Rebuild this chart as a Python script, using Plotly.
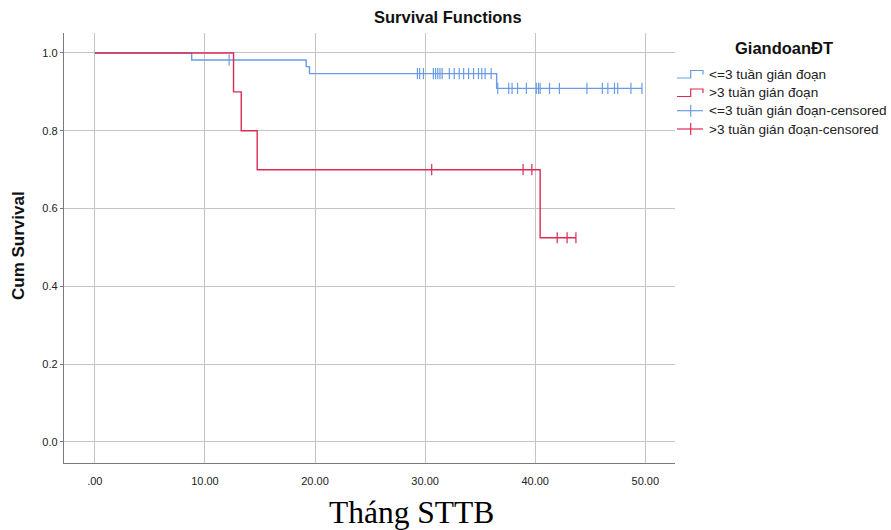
import plotly.graph_objects as go

# ---- data ----
blue_name = "<=3 tuần gián đoạn"
red_name = ">3 tuần gián đoạn"

blue_times = [0.0, 8.8, 19.2, 19.5, 36.5]
blue_surv = [1.0, 0.982, 0.965, 0.947, 0.909]
blue_end = 49.7
blue_censored = [12.2,
                 29.3, 29.5, 29.85, 30.75, 30.95, 31.15, 31.35, 31.55, 32.2, 32.65,
                 33.1, 33.5, 33.95, 34.4, 34.85, 35.15, 35.45, 36.0,
                 36.6, 37.6, 37.9, 38.4, 39.2, 40.1, 40.3, 40.45, 41.3, 42.2,
                 44.7, 46.1, 46.6, 47.2, 47.5, 48.7, 49.7]

red_times = [0.0, 12.6, 13.3, 14.75, 40.45]
red_surv = [1.0, 0.9, 0.8, 0.7, 0.525]
red_end = 43.7
red_censored = [30.6, 38.9, 39.7, 42.0, 42.9, 43.7]

x_ticks = [0, 10, 20, 30, 40, 50]
x_ticklabels = [".00", "10.00", "20.00", "30.00", "40.00", "50.00"]
y_ticks = [0.0, 0.2, 0.4, 0.6, 0.8, 1.0]
y_ticklabels = ["0.0", "0.2", "0.4", "0.6", "0.8", "1.0"]

BLUE = "#6a9ce6"
RED = "#dd2a55"


def surv_at(times, surv, t):
    v = surv[0]
    for ti, si in zip(times, surv):
        if t >= ti:
            v = si
    return v


fig = go.Figure()
for times, surv, end, cens, col in [
    (blue_times, blue_surv, blue_end, blue_censored, BLUE),
    (red_times, red_surv, red_end, red_censored, RED),
]:
    fig.add_trace(go.Scatter(x=times + [end], y=surv + [surv[-1]], mode="lines",
                             line=dict(shape="hv", color=col, width=1.4),
                             showlegend=False, hoverinfo="skip"))
    fig.add_trace(go.Scatter(x=cens, y=[surv_at(times, surv, t) for t in cens],
                             mode="markers",
                             marker=dict(symbol="line-ns", size=8,
                                         line=dict(color=col, width=1.2)),
                             showlegend=False, hoverinfo="skip"))

W, H = 891, 530
L, R, T, B = 64, 675, 33, 463


def px(x):
    return (x - L) / (R - L)


def py(y):
    return (B - y) / (B - T)


shapes = []
annotations = []

# Legend (drawn manually to reproduce the step icons)
annotations.append(dict(x=px(784), y=py(48), xref="paper", yref="paper",
                        text="<b>GiandoanĐT</b>", showarrow=False,
                        font=dict(family="Liberation Sans, Arial", size=16.5, color="#111"),
                        xanchor="center", yanchor="middle"))
rows = [74, 92.5, 110.7, 129]
labels = [blue_name, red_name, blue_name + "-censored", red_name + "-censored"]
cols = [BLUE, RED, BLUE, RED]
for i, (yy, lab, col) in enumerate(zip(rows, labels, cols)):
    if i < 2:
        # step icon
        shapes.append(dict(type="path", xref="paper", yref="paper",
                           path=f"M {px(677)} {py(yy+4)} L {px(690.7)} {py(yy+4)} "
                                f"L {px(690.7)} {py(yy-3.5)} L {px(703)} {py(yy-3.5)} "
                                f"L {px(703)} {py(yy+0.5)}",
                           line=dict(color=col, width=1.2)))
    else:
        shapes.append(dict(type="line", xref="paper", yref="paper",
                           x0=px(677), x1=px(703), y0=py(yy), y1=py(yy),
                           line=dict(color=col, width=1.2)))
        shapes.append(dict(type="line", xref="paper", yref="paper",
                           x0=px(690.7), x1=px(690.7), y0=py(yy - 6), y1=py(yy + 6),
                           line=dict(color=col, width=1.2)))
    annotations.append(dict(x=px(707), y=py(yy), xref="paper", yref="paper",
                            text=lab, showarrow=False, xanchor="left", yanchor="middle",
                            font=dict(family="Liberation Sans, Arial", size=13.6, color="#222")))

# Titles
annotations.append(dict(x=px(448), y=py(17), xref="paper", yref="paper",
                        text="<b>Survival Functions</b>", showarrow=False,
                        xanchor="center", yanchor="middle",
                        font=dict(family="Liberation Sans, Arial", size=16.5, color="#111")))
annotations.append(dict(x=px(18), y=py(246), xref="paper", yref="paper",
                        text="<b>Cum Survival</b>", showarrow=False, textangle=-90,
                        xanchor="center", yanchor="middle",
                        font=dict(family="Liberation Sans, Arial", size=17, color="#111")))
annotations.append(dict(x=px(411), y=py(512), xref="paper", yref="paper",
                        text="Tháng STTB", showarrow=False,
                        xanchor="center", yanchor="middle",
                        font=dict(family="Liberation Serif, Times New Roman", size=31.5, color="#000")))

fig.update_layout(
    width=W, height=H,
    margin=dict(l=L, r=W - R, t=T, b=H - B, pad=0),
    paper_bgcolor="white", plot_bgcolor="white",
    showlegend=False,
    shapes=shapes, annotations=annotations,
    xaxis=dict(range=[-2.8, 52.7], tickvals=x_ticks, ticktext=x_ticklabels,
               showgrid=True, gridcolor="#c4c4c4", gridwidth=1, zeroline=False,
               showline=True, linecolor="#7a7a7a", linewidth=1.3,
               ticks="", ticklen=0, ticklabelstandoff=8,
               tickfont=dict(family="Liberation Sans, Arial", size=11, color="#222")),
    yaxis=dict(range=[-0.054, 1.0514], tickvals=y_ticks, ticktext=y_ticklabels,
               showgrid=True, gridcolor="#c4c4c4", gridwidth=1, zeroline=False,
               showline=True, linecolor="#7a7a7a", linewidth=1.3,
               ticks="outside", ticklen=3, tickcolor="#7a7a7a",
               tickfont=dict(family="Liberation Sans, Arial", size=11, color="#222")),
)

fig.write_html("out.html")
